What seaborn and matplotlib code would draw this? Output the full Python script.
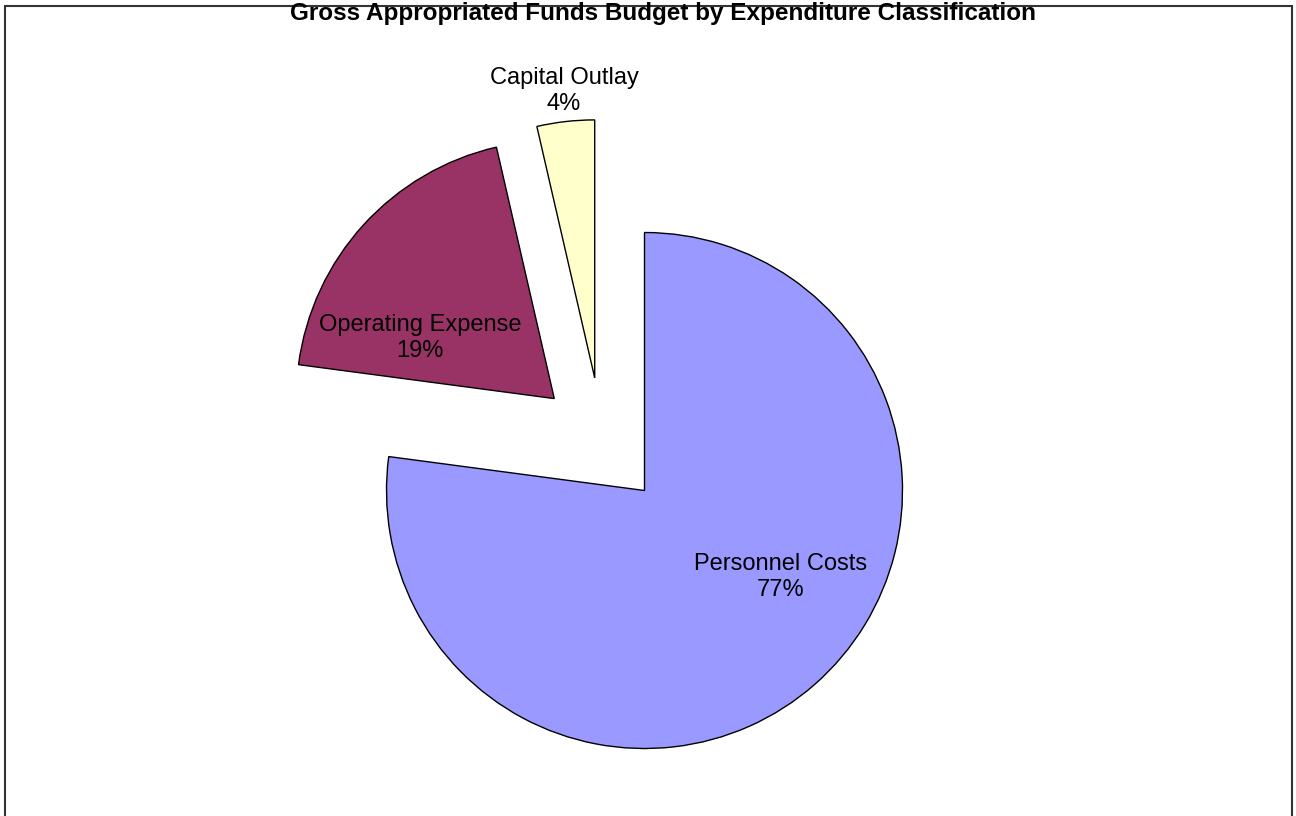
import matplotlib
matplotlib.use("Agg")
import matplotlib.pyplot as plt
import seaborn as sns
from matplotlib.patches import Rectangle

# data
categories = ["Personnel Costs", "Operating Expense", "Capital Outlay"]
shares = [77.1, 19.3, 3.6]
pct_labels = ["77%", "19%", "4%"]
slice_colors = ["#9999FF", "#993366", "#FFFFCC"]
title = "Gross Appropriated Funds Budget by Expenditure Classification"

sns.set_theme(style="white")
plt.rcParams['font.family'] = ['Liberation Sans', 'DejaVu Sans']

W, H = 1296, 816
R = 258
fig = plt.figure(figsize=(W / 100, H / 100), dpi=100)
ax = fig.add_axes([0, 0, 1, 1])

labels = [f"{c}\n{p}" for c, p in zip(categories, pct_labels)]
# explode is in data units here (not scaled by radius)
wedges, texts = ax.pie(shares, labels=labels, colors=slice_colors,
                       startangle=90, counterclock=False,
                       explode=[0.25 * R] * 3,
                       center=(602, H - 442), radius=R,
                       wedgeprops={'edgecolor': 'black', 'linewidth': 1},
                       textprops={'fontsize': 17, 'color': 'black'})

# label spots (pixel coords, y from bottom)
spots = [(781, H - 577), (420, H - 338), (564, H - 91)]
for t, (x, y) in zip(texts, spots):
    t.set_position((x, y))
    t.set_ha('center')
    t.set_va('center')
    t.set_multialignment('center')

ax.set_xlim(0, W)
ax.set_ylim(0, H)
ax.set_aspect('equal')
ax.axis('off')

# chart area frame
ax.add_patch(Rectangle((5, -20), 1292 - 5, H - 5.5 + 20, fill=False,
                       edgecolor='#333333', linewidth=1.5, clip_on=False))

ax.text(663, H - 2, title, ha='center', va='top', fontsize=17.5,
        fontweight='bold', color='black')

fig.savefig("out.png", dpi=100)
